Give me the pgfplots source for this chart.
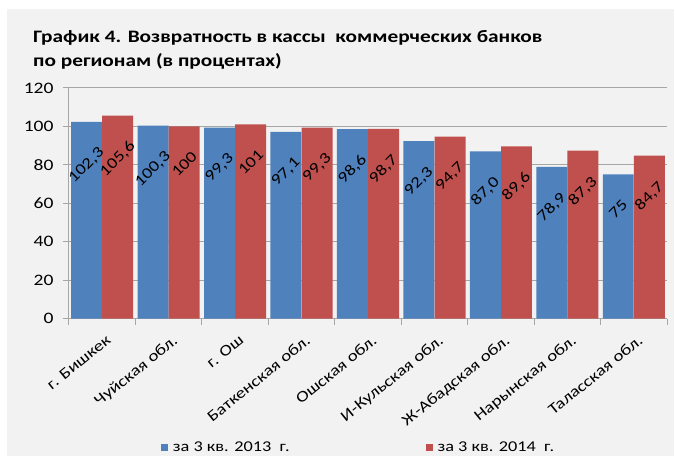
\documentclass[border=0pt]{standalone}
\usepackage{fontspec}
\setmainfont{Carlito}[FakeStretch=1.22]
\usepackage{pgfplots}
\pgfplotsset{compat=1.18}
\usepackage{pgfplotstable}
\definecolor{bgray}{HTML}{F2F2F2}
\definecolor{xlblue}{HTML}{4F81BD}
\definecolor{xlred}{HTML}{C0504D}
\definecolor{gridc}{HTML}{A6A6A6}

\pgfplotstableread{
x y lab
0 102.3 102,3
1 100.3 100,3
2 99.3 99,3
3 97.1 97,1
4 98.6 98,6
5 92.3 92,3
6 87.0 87,0
7 78.9 78,9
8 75 75
}\tblA
\pgfplotstableread{
x y lab
0 105.6 105,6
1 100 100
2 101 101
3 99.3 99,3
4 98.7 98,7
5 94.7 94,7
6 89.6 89,6
7 87.3 87,3
8 84.7 84,7
}\tblB

\begin{document}
\begin{tikzpicture}[x=1pt,y=1pt]
\fill[white] (0,0) rectangle (675,457);
\fill[bgray] (7,0) rectangle (675,448);
\node[anchor=base west,inner sep=0,font=\fontsize{17.5}{21}\selectfont\bfseries] at (33,414) {График 4. Возвратность в кассы\ \ коммерческих банков};
\node[anchor=base west,inner sep=0,font=\fontsize{17.5}{21}\selectfont\bfseries] at (33,390) {по регионам (в процентах)};
\begin{axis}[
  at={(69pt,138pt)}, anchor=south west,
  scale only axis, width=599pt, height=231pt,
  xmin=-0.5, xmax=8.5, ymin=0, ymax=120,
  ytick={0,20,...,120},
  axis lines*=left,
  axis line style={draw=gridc, line width=1pt, -},
  ymajorgrids, grid style={draw=gridc, line width=1.2pt},
  tick align=outside, major tick length=6pt,
  ytick style={draw=gridc, line width=1pt},
  xtick={0,...,8},
  xtick style={draw=none},
  xticklabels={г. Бишкек, Чуйская обл., г. Ош, Баткенская обл., Ошская обл., И-Кульская обл., Ж-Абадская обл., Нарынская обл., Таласская обл.},
  extra x ticks={-0.5,0.5,...,8.5},
  extra x tick labels={},
  extra x tick style={xtick style={draw=gridc, line width=1pt}},
  tick label style={font=\fontsize{15}{18}\selectfont, text=black},
  yticklabel style={font=\fontsize{16}{18}\selectfont, xshift=-6pt},
  /pgf/number format/assume math mode=true,
  xticklabel style={font=\fontsize{15.5}{18}\selectfont, rotate=39, anchor=north east, yshift=-6pt},
  legend style={at={(0.1486,-0.558)}, anchor=west, draw=none, fill=none,
    font=\fontsize{15}{18}\selectfont, legend columns=2,
    /tikz/every even column/.append style={column sep=134pt}},
  legend image code/.code={\fill[#1] (-3pt,-4pt) rectangle (4pt,3pt); \path (7pt,0pt);},
  point meta=explicit symbolic,
  nodes near coords={\rotatebox{45}{\pgfplotspointmeta}},
  every node near coord/.append style={anchor=north, yshift=-24pt, inner sep=0pt, font=\fontsize{15.5}{18}\selectfont, text=black},
]
\addplot[ybar, bar width=31pt, bar shift=-15.6pt, fill=xlblue, draw=none,
  every node near coord/.append style={xshift=-15.6pt}] table[x=x,y=y,meta=lab] {\tblA};
\addlegendentry{за 3 кв. 2013\ \ г.}
\addplot[ybar, bar width=31pt, bar shift=15.6pt, fill=xlred, draw=none,
  every node near coord/.append style={xshift=15.6pt}] table[x=x,y=y,meta=lab] {\tblB};
\addlegendentry{за 3 кв. 2014\ \ г.}
\end{axis}
\end{tikzpicture}
\end{document}
